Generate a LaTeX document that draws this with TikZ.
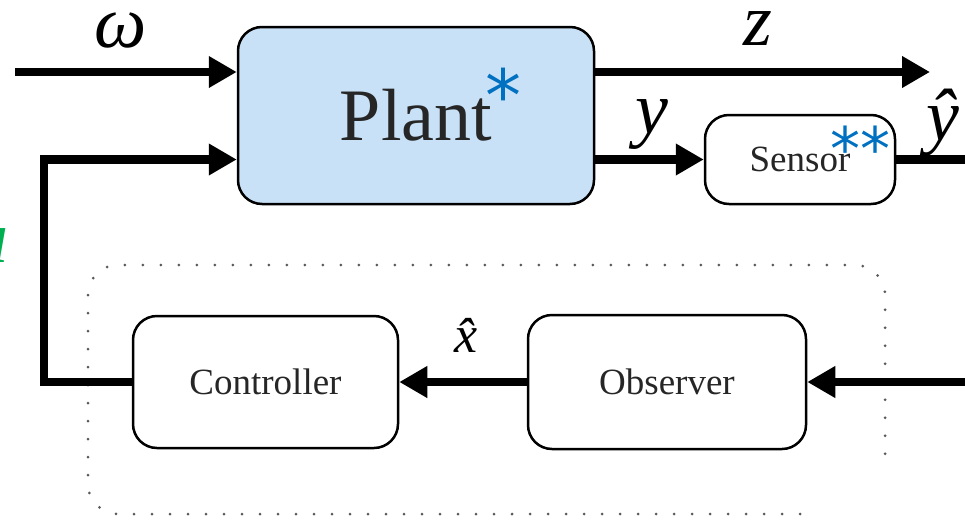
\documentclass[tikz,border=0pt]{standalone}
\usepackage{fontspec}
\setmainfont{Liberation Serif}
\newfontfamily\starfont{DejaVu Sans}
\usetikzlibrary{positioning, arrows.meta}
\definecolor{plantblue}{RGB}{201,225,247}
\definecolor{starblue}{RGB}{0,112,192}
\definecolor{ugreen}{RGB}{0,176,80}

\begin{document}
\begin{tikzpicture}[x=1pt,y=1pt,on grid,
    block/.style={draw,line width=2.5pt,rounded corners=24pt,inner sep=0pt,text=black!85,font=\fontsize{37}{44}\selectfont},
    sig/.style={line width=8.5pt,-{Triangle[length=28pt,width=30pt]}},
    wire/.style={line width=8.5pt},
    lbl/.style={inner sep=0pt,font=\fontsize{74}{88}\selectfont\itshape},
    asterisk/.style={text=starblue,inner sep=0pt,anchor=base,font=\starfont\fontsize{60}{60}\selectfont},
    dotbox/.style={black!65,line width=3pt,line cap=round,dash pattern=on 0pt off 18pt,rounded corners=30pt}]
    \useasboundingbox (0,0) rectangle (965,-522);
    \node[block,fill=plantblue,minimum width=356pt,minimum height=177pt,font=\fontsize{74}{88}\selectfont] (plant) at (416,-115.5) {Plant};
    \node[block,minimum width=190pt,minimum height=89pt] (sensor) [below right=44pt and 384pt of plant] {Sensor};
    \node[block,minimum width=265pt,minimum height=132pt] (controller) [below left=266.5pt and 150.5pt of plant] {Controller};
    \node[block,minimum width=278pt,minimum height=134pt] (observer) [right=401.5pt of controller] {Observer};
    \node[asterisk,font=\starfont\fontsize{72}{72}\selectfont] (plantstar) at (503,-121) {*};
    \node[asterisk] (sensorstar) at (860,-170) {**};
    \node[lbl] (omega) at (121,-31) {ω};
    \node[lbl] (zlbl) at (758,-29) {z};
    \node[lbl] (ylbl) at (652,-125) {y};
    \node[lbl] (yhat) at (943,-123) {ŷ};
    \node[lbl,font=\fontsize{52}{60}\selectfont\itshape] (xhat) at (466,-335) {\^x};
    \node[lbl,text=ugreen] (ulbl) at (-10,-246) {u};
    \coordinate (win) at (15,-72);
    \coordinate (zout) at (930,-72);
    \coordinate (rightedge) at (965,0);
    \coordinate (ucorner) at (44,0);
    \draw[dotbox] (800,-514) -| (88,-265) -| (885,-470);
    \draw[sig] (win) -- (win -| plant.west);
    \draw[sig] (zout -| plant.east) -- (zout);
    \draw[sig] (sensor.west -| plant.east) -- (sensor);
    \draw[wire] (sensor.east) -- (sensor.east -| rightedge);
    \draw[sig] (observer.east -| rightedge) -- (observer);
    \draw[sig] (observer) -- (controller);
    \draw[sig] (controller.west) -| ([yshift=-44pt]plant.west -| ucorner) -- ([yshift=-44pt]plant.west);
\end{tikzpicture}
\end{document}
